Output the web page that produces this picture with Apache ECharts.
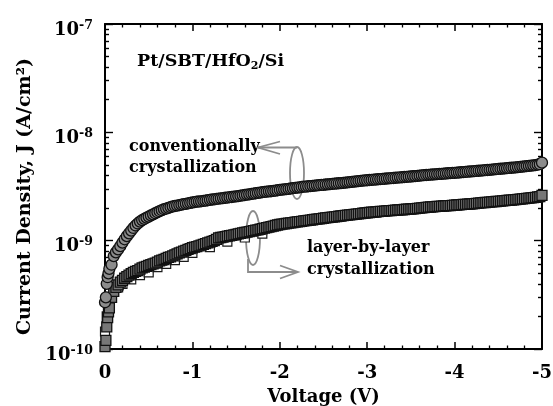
<!DOCTYPE html>
<html>
<head>
<meta charset="utf-8">
<script src="https://cdn.jsdelivr.net/npm/echarts@6/dist/echarts.min.js"></script>
<style>
  html, body { margin: 0; padding: 0; background: #fff; }
  #chart { width: 553px; height: 406px; }
</style>
</head>
<body>
<div id="chart"></div>
<script>
// Bias voltage (V) of the J-V sweep
var voltage = [
  0, -0.01, -0.02, -0.03, -0.04, -0.05, -0.075, -0.1, -0.125, -0.15, -0.175,
  -0.2, -0.225, -0.25, -0.275, -0.3, -0.325, -0.35, -0.375,
  -0.4, -0.425, -0.45, -0.475, -0.5, -0.525, -0.55, -0.575,
  -0.6, -0.625, -0.65, -0.675, -0.7, -0.725, -0.75, -0.775,
  -0.8, -0.825, -0.85, -0.875, -0.9, -0.925, -0.95, -0.975,
  -1.0, -1.025, -1.05, -1.075, -1.1, -1.125, -1.15, -1.175,
  -1.2, -1.225, -1.25, -1.275, -1.3, -1.325, -1.35, -1.375,
  -1.4, -1.425, -1.45, -1.475, -1.5, -1.525, -1.55, -1.575,
  -1.6, -1.625, -1.65, -1.675, -1.7, -1.725, -1.75, -1.775,
  -1.8, -1.825, -1.85, -1.875, -1.9, -1.925, -1.95, -1.975,
  -2.0, -2.025, -2.05, -2.075, -2.1, -2.125, -2.15, -2.175,
  -2.2, -2.225, -2.25, -2.275, -2.3, -2.325, -2.35, -2.375,
  -2.4, -2.425, -2.45, -2.475, -2.5, -2.525, -2.55, -2.575,
  -2.6, -2.625, -2.65, -2.675, -2.7, -2.725, -2.75, -2.775,
  -2.8, -2.825, -2.85, -2.875, -2.9, -2.925, -2.95, -2.975,
  -3.0, -3.025, -3.05, -3.075, -3.1, -3.125, -3.15, -3.175,
  -3.2, -3.225, -3.25, -3.275, -3.3, -3.325, -3.35, -3.375,
  -3.4, -3.425, -3.45, -3.475, -3.5, -3.525, -3.55, -3.575,
  -3.6, -3.625, -3.65, -3.675, -3.7, -3.725, -3.75, -3.775,
  -3.8, -3.825, -3.85, -3.875, -3.9, -3.925, -3.95, -3.975,
  -4.0, -4.025, -4.05, -4.075, -4.1, -4.125, -4.15, -4.175,
  -4.2, -4.225, -4.25, -4.275, -4.3, -4.325, -4.35, -4.375,
  -4.4, -4.425, -4.45, -4.475, -4.5, -4.525, -4.55, -4.575,
  -4.6, -4.625, -4.65, -4.675, -4.7, -4.725, -4.75, -4.775,
  -4.8, -4.825, -4.85, -4.875, -4.9, -4.925, -4.95, -4.975,
  -5.0
];

// Current density in nA/cm^2, conventionally crystallized film
var jConventionalNA = [
  0.27, 0.30, 0.40, 0.46, 0.50, 0.55, 0.60, 0.72, 0.78, 0.83, 0.89,
  0.96, 1.03, 1.10, 1.17, 1.24, 1.31, 1.38, 1.44,
  1.50, 1.55, 1.59, 1.63, 1.67, 1.71, 1.75, 1.79,
  1.83, 1.87, 1.91, 1.95, 1.98, 2.01, 2.04, 2.07,
  2.09, 2.11, 2.13, 2.15, 2.17, 2.19, 2.21, 2.23,
  2.25, 2.27, 2.29, 2.30, 2.31, 2.33, 2.34, 2.36,
  2.38, 2.40, 2.41, 2.43, 2.44, 2.46, 2.47, 2.49,
  2.50, 2.52, 2.53, 2.55, 2.56, 2.58, 2.60, 2.62,
  2.64, 2.66, 2.68, 2.70, 2.72, 2.74, 2.76, 2.78,
  2.80, 2.82, 2.83, 2.85, 2.86, 2.88, 2.90, 2.92,
  2.94, 2.96, 2.97, 2.99, 3.01, 3.03, 3.05, 3.07,
  3.09, 3.11, 3.13, 3.15, 3.16, 3.18, 3.19, 3.21,
  3.22, 3.24, 3.25, 3.27, 3.28, 3.30, 3.31, 3.33,
  3.34, 3.36, 3.37, 3.39, 3.40, 3.42, 3.43, 3.45,
  3.47, 3.49, 3.51, 3.53, 3.55, 3.57, 3.58, 3.60,
  3.61, 3.63, 3.64, 3.66, 3.67, 3.69, 3.70, 3.72,
  3.73, 3.75, 3.76, 3.78, 3.79, 3.81, 3.82, 3.84,
  3.85, 3.87, 3.88, 3.90, 3.91, 3.93, 3.94, 3.96,
  3.98, 4.00, 4.02, 4.04, 4.05, 4.07, 4.08, 4.10,
  4.11, 4.13, 4.14, 4.16, 4.17, 4.19, 4.20, 4.22,
  4.23, 4.25, 4.26, 4.28, 4.29, 4.31, 4.33, 4.35,
  4.37, 4.39, 4.40, 4.42, 4.43, 4.45, 4.47, 4.49,
  4.51, 4.53, 4.55, 4.57, 4.59, 4.61, 4.63, 4.65,
  4.67, 4.69, 4.71, 4.73, 4.75, 4.78, 4.80, 4.83,
  4.85, 4.88, 4.90, 4.93, 4.96, 4.99, 5.03, 5.08,
  5.25
];

// Current density in nA/cm^2, layer-by-layer crystallized film
var jLayerByLayerNA = [
  0.105, 0.12, 0.16, 0.195, 0.22, 0.24, 0.30, 0.34, 0.37, 0.39, 0.415,
  0.43, 0.45, 0.465, 0.48, 0.495, 0.51, 0.52, 0.53,
  0.545, 0.56, 0.57, 0.58, 0.59, 0.60, 0.61, 0.62,
  0.635, 0.65, 0.66, 0.67, 0.685, 0.70, 0.71, 0.725,
  0.74, 0.755, 0.77, 0.785, 0.80, 0.815, 0.83, 0.845,
  0.86, 0.87, 0.88, 0.895, 0.91, 0.925, 0.94, 0.955,
  0.97, 0.985, 1.00, 1.03, 1.06, 1.07, 1.08, 1.09,
  1.10, 1.11, 1.12, 1.13, 1.14, 1.155, 1.17, 1.18,
  1.19, 1.20, 1.21, 1.225, 1.24, 1.25, 1.26, 1.275,
  1.29, 1.305, 1.32, 1.335, 1.35, 1.365, 1.38, 1.395,
  1.41, 1.42, 1.43, 1.44, 1.45, 1.46, 1.47, 1.48,
  1.49, 1.50, 1.51, 1.52, 1.53, 1.54, 1.55, 1.56,
  1.57, 1.58, 1.59, 1.60, 1.61, 1.62, 1.63, 1.64,
  1.65, 1.66, 1.67, 1.68, 1.69, 1.70, 1.71, 1.72,
  1.73, 1.74, 1.75, 1.76, 1.77, 1.78, 1.79, 1.80,
  1.81, 1.82, 1.83, 1.835, 1.84, 1.85, 1.86, 1.865,
  1.87, 1.88, 1.89, 1.895, 1.90, 1.91, 1.92, 1.925,
  1.93, 1.94, 1.95, 1.955, 1.96, 1.97, 1.98, 1.99,
  2.00, 2.01, 2.02, 2.03, 2.04, 2.045, 2.05, 2.06,
  2.07, 2.075, 2.08, 2.09, 2.10, 2.105, 2.11, 2.12,
  2.13, 2.135, 2.14, 2.15, 2.16, 2.165, 2.17, 2.18,
  2.19, 2.20, 2.21, 2.22, 2.23, 2.24, 2.25, 2.26,
  2.27, 2.28, 2.29, 2.30, 2.31, 2.32, 2.33, 2.34,
  2.35, 2.36, 2.37, 2.38, 2.39, 2.405, 2.42, 2.43,
  2.44, 2.455, 2.47, 2.485, 2.50, 2.515, 2.53, 2.55,
  2.62
];

// Second (open-symbol) layer-by-layer sweep, low-bias part
var voltageOpen = [0, -0.02, -0.04, -0.06, -0.1, -0.15, -0.2, -0.3, -0.4, -0.5, -0.6, -0.7, -0.8, -0.9, -1.0, -1.2, -1.4, -1.6, -1.8];
var jLayerByLayerOpenNA = [
  0.145, 0.20, 0.26, 0.30, 0.34, 0.37, 0.40, 0.44, 0.48, 0.51,
  0.57, 0.61, 0.66, 0.71, 0.77, 0.87, 0.98, 1.07, 1.16
];

// Axis ticks
var xTicks = [0, -1, -2, -3, -4, -5];
var yDecades = [1e-10, 1e-9, 1e-8, 1e-7];
var yMinorMultipliers = [2, 3, 4, 5, 6, 7, 8, 9];

var NA = 1e-9; // nA/cm^2 -> A/cm^2

var yMinor = [];
yDecades.slice(0, 3).forEach(function (d) {
  yMinorMultipliers.forEach(function (m) { yMinor.push(m * d); });
});

function pairs(xs, ys) { return xs.map(function (x, i) { return [x, ys[i] * NA]; }); }

var FONT = 'DejaVu Serif';
var GRAY = '#8c8c8c';

var chart = echarts.init(document.getElementById('chart'), null, { renderer: 'canvas' });

function xAxisBase(pos, showLabels) {
  return {
    type: 'value', min: -5, max: 0, interval: 1, inverse: true, position: pos,
    axisLine: { onZero: false, lineStyle: { color: '#000', width: 2 } },
    axisTick: { inside: true, length: 7, lineStyle: { color: '#000', width: 1.5 } },
    minorTick: { show: true, splitNumber: 5, length: 3.5, lineStyle: { color: '#000', width: 1.3 } },
    splitLine: { show: false },
    axisLabel: {
      show: showLabels, margin: 15, color: '#000', fontFamily: FONT, fontWeight: 'bold', fontSize: 18,
      formatter: function (v) { return xTicks.indexOf(v) >= 0 ? String(v) : ''; }
    }
  };
}

function yAxisBase(pos, ticks, len, showLine) {
  return {
    type: 'log', logBase: 10, min: 1e-10, max: 1e-7, position: pos,
    axisLine: { show: showLine, onZero: false, lineStyle: { color: '#000', width: 2 } },
    axisTick: { inside: true, length: len, customValues: ticks, lineStyle: { color: '#000', width: 1.4 } },
    splitLine: { show: false },
    axisLabel: { show: false }
  };
}

var yMain = yAxisBase('left', yDecades, 8, true);
yMain.axisLabel = {
  show: true, margin: 12, customValues: yDecades, padding: [12, 0, 0, 0],
  formatter: function (v) { return '{b|10}{e|' + Math.round(Math.log10(v)) + '}'; },
  rich: {
    b: { fontFamily: FONT, fontWeight: 'bold', fontSize: 18, color: '#000', lineHeight: 22 },
    e: { fontFamily: FONT, fontWeight: 'bold', fontSize: 12.5, color: '#000', verticalAlign: 'top', lineHeight: 14 }
  }
};
yMain.name = 'Current Density, J (A/cm\u00B2)';
yMain.nameLocation = 'middle';
yMain.nameGap = 68;
yMain.nameTextStyle = { fontFamily: FONT, fontWeight: 'bold', fontSize: 19, color: '#000', padding: [0, 20, 0, 0] };

var xMain = xAxisBase('bottom', true);
xMain.name = 'Voltage (V)';
xMain.nameLocation = 'middle';
xMain.nameGap = 39;
xMain.nameTextStyle = { fontFamily: FONT, fontWeight: 'bold', fontSize: 18, color: '#000' };

var annoStroke = { stroke: GRAY, lineWidth: 1.8, fill: null };
var textStyle = { fontFamily: FONT, fontWeight: 'bold', fontSize: 16, fill: '#000', lineHeight: 21 };

chart.setOption({
  animation: false,
  grid: { left: 105, right: 11, top: 24, bottom: 57, containLabel: false, outerBoundsMode: 'none' },
  xAxis: [xMain, xAxisBase('top', false)],
  yAxis: [
    yMain,
    yAxisBase('left', yMinor, 4, false),
    yAxisBase('right', yDecades, 8, true),
    yAxisBase('right', yMinor, 4, false)
  ],
  series: [
    {
      name: 'layer-by-layer (open)', type: 'scatter', xAxisIndex: 0, yAxisIndex: 0,
      data: pairs(voltageOpen, jLayerByLayerOpenNA), symbol: 'rect', symbolSize: 9, clip: false,
      itemStyle: { color: '#fff', borderColor: '#1a1a1a', borderWidth: 1.2, opacity: 1 },
      emphasis: { disabled: true }
    },
    {
      name: 'layer-by-layer', type: 'scatter', xAxisIndex: 0, yAxisIndex: 0,
      data: pairs(voltage, jLayerByLayerNA), symbol: 'rect', symbolSize: 10, clip: false,
      itemStyle: { color: '#777', borderColor: '#111', borderWidth: 1.3, opacity: 1 },
      emphasis: { disabled: true }
    },
    {
      name: 'conventionally', type: 'scatter', xAxisIndex: 0, yAxisIndex: 0,
      data: pairs(voltage, jConventionalNA), symbol: 'circle', symbolSize: 11, clip: false,
      itemStyle: { color: GRAY, borderColor: '#111', borderWidth: 1.3, opacity: 1 },
      emphasis: { disabled: true }
    }
  ],
  graphic: [
    {
      type: 'text', left: 137, top: 52, silent: true,
      style: {
        text: '{a|Pt/SBT/HfO}{s|2}{a|/Si}',
        rich: {
          a: { fontFamily: FONT, fontWeight: 'bold', fontSize: 17.5, fill: '#000', lineHeight: 22 },
          s: { fontFamily: FONT, fontWeight: 'bold', fontSize: 11, fill: '#000', verticalAlign: 'bottom', lineHeight: 16 }
        }
      }
    },
    { type: 'text', x: 129, y: 136, silent: true,
      style: Object.assign({ text: 'conventionally\ncrystallization', verticalAlign: 'top' }, textStyle) },
    { type: 'text', x: 307, y: 237, silent: true,
      style: Object.assign({ text: 'layer-by-layer\ncrystallization', verticalAlign: 'top' }, textStyle, { lineHeight: 22 }) },
    // bracket around the upper curve, pointing to its caption
    { type: 'ellipse', silent: true, shape: { cx: 297, cy: 173, rx: 7, ry: 26 }, style: annoStroke },
    { type: 'polyline', silent: true, shape: { points: [[297, 147.5], [258, 147.5]] }, style: annoStroke },
    { type: 'polyline', silent: true, shape: { points: [[280, 141.5], [258, 147.5], [280, 154]] }, style: annoStroke },
    // bracket around the lower curve, pointing to its caption
    { type: 'ellipse', silent: true, shape: { cx: 253, cy: 238, rx: 7, ry: 27 }, style: annoStroke },
    { type: 'polyline', silent: true, shape: { points: [[248, 259], [248, 272], [298, 272]] }, style: annoStroke },
    { type: 'polyline', silent: true, shape: { points: [[280, 265.5], [298, 272], [280, 278.5]] }, style: annoStroke }
  ]
});
</script>
</body>
</html>
